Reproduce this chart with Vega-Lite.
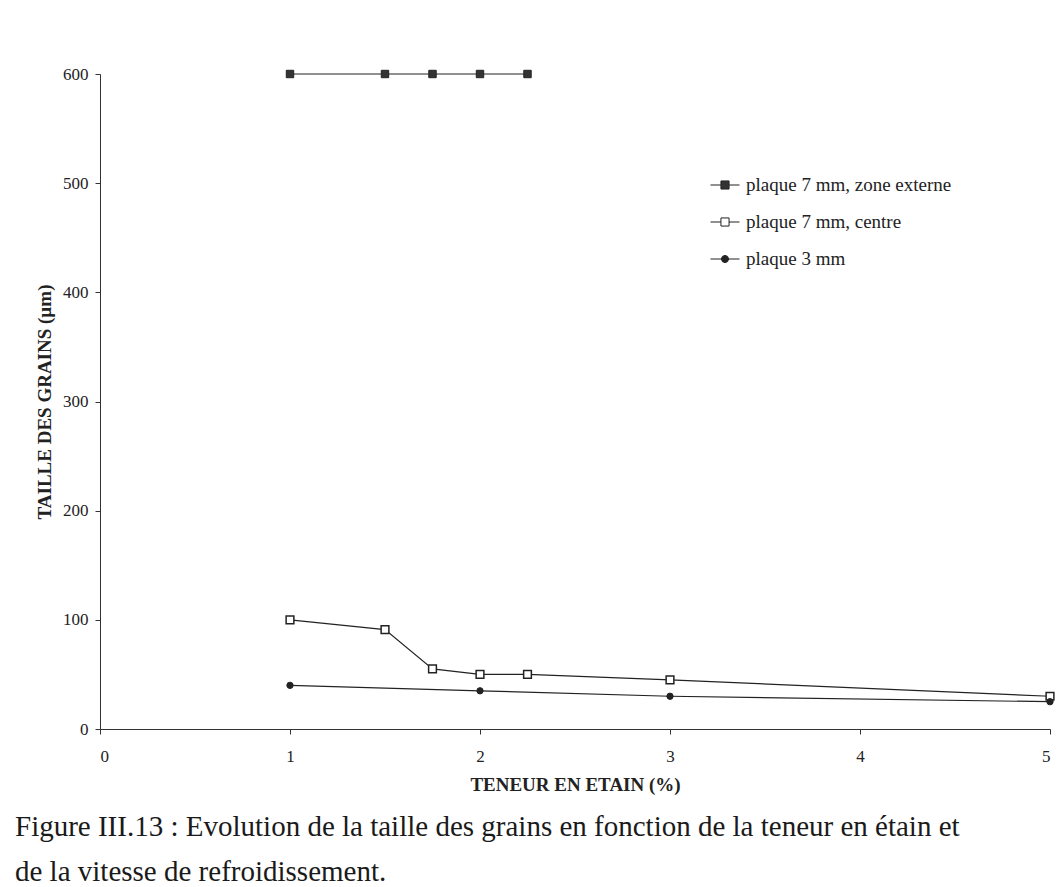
{
  "$schema": "https://vega.github.io/schema/vega-lite/v6.json",
  "width": 950,
  "height": 655,
  "autosize": {"type": "none"},
  "padding": {"left": 100, "top": 74, "right": 12, "bottom": 158},
  "background": "white",
  "config": {"view": {"stroke": null}, "font": "Liberation Serif"},
  "title": {
    "text": ["Figure III.13 : Evolution de la taille des grains en fonction de la teneur en étain et", "de la vitesse de refroidissement."],
    "orient": "bottom",
    "anchor": "start",
    "frame": "group",
    "dx": -85,
    "offset": 19,
    "font": "Liberation Serif",
    "fontSize": 29,
    "fontWeight": "normal",
    "color": "#1a1a1a",
    "lineHeight": 45
  },
  "data": {
    "values": [
      {"serie": "plaque 7 mm, zone externe", "teneur": 1, "taille": 600},
      {"serie": "plaque 7 mm, zone externe", "teneur": 1.5, "taille": 600},
      {"serie": "plaque 7 mm, zone externe", "teneur": 1.75, "taille": 600},
      {"serie": "plaque 7 mm, zone externe", "teneur": 2, "taille": 600},
      {"serie": "plaque 7 mm, zone externe", "teneur": 2.25, "taille": 600},
      {"serie": "plaque 7 mm, centre", "teneur": 1, "taille": 100},
      {"serie": "plaque 7 mm, centre", "teneur": 1.5, "taille": 91},
      {"serie": "plaque 7 mm, centre", "teneur": 1.75, "taille": 55},
      {"serie": "plaque 7 mm, centre", "teneur": 2, "taille": 50},
      {"serie": "plaque 7 mm, centre", "teneur": 2.25, "taille": 50},
      {"serie": "plaque 7 mm, centre", "teneur": 3, "taille": 45},
      {"serie": "plaque 7 mm, centre", "teneur": 5, "taille": 30},
      {"serie": "plaque 3 mm", "teneur": 1, "taille": 40},
      {"serie": "plaque 3 mm", "teneur": 2, "taille": 35},
      {"serie": "plaque 3 mm", "teneur": 3, "taille": 30},
      {"serie": "plaque 3 mm", "teneur": 5, "taille": 25}
    ]
  },
  "encoding": {
    "x": {
      "field": "teneur",
      "type": "quantitative",
      "scale": {"domain": [0, 5], "nice": false, "zero": false},
      "axis": {
        "title": "TENEUR EN ETAIN (%)",
        "values": [0, 1, 2, 3, 4, 5],
        "format": "d",
        "grid": false,
        "domainColor": "#333",
        "tickColor": "#333",
        "tickSize": 5,
        "labelFont": "Liberation Serif",
        "labelFontSize": 17,
        "labelColor": "#222",
        "labelPadding": 14,
        "titleFont": "Liberation Serif",
        "titleFontSize": 19,
        "titleFontWeight": "bold",
        "titleColor": "#222",
        "titlePadding": 11
      }
    },
    "y": {
      "field": "taille",
      "type": "quantitative",
      "scale": {"domain": [0, 600], "nice": false},
      "axis": {
        "title": "TAILLE DES GRAINS (µm)",
        "values": [0, 100, 200, 300, 400, 500, 600],
        "grid": false,
        "domainColor": "#333",
        "tickColor": "#333",
        "tickSize": 5,
        "labelFont": "Liberation Serif",
        "labelFontSize": 17,
        "labelColor": "#222",
        "labelPadding": 7,
        "titleFont": "Liberation Serif",
        "titleFontSize": 19,
        "titleFontWeight": "bold",
        "titleColor": "#222",
        "titlePadding": 8
      }
    }
  },
  "layer": [
    {
      "mark": {"type": "line", "stroke": "#222", "strokeWidth": 1.2},
      "encoding": {"detail": {"field": "serie"}}
    },
    {
      "transform": [{"filter": "datum.serie === 'plaque 7 mm, zone externe'"}],
      "mark": {"type": "point", "shape": "square", "filled": true, "fill": "#333", "stroke": "#222", "strokeWidth": 1, "size": 55, "opacity": 1}
    },
    {
      "transform": [{"filter": "datum.serie === 'plaque 7 mm, centre'"}],
      "mark": {"type": "point", "shape": "square", "filled": true, "fill": "white", "stroke": "#222", "strokeWidth": 1.5, "size": 60, "opacity": 1}
    },
    {
      "transform": [{"filter": "datum.serie === 'plaque 3 mm'"}],
      "mark": {"type": "point", "shape": "circle", "filled": true, "fill": "#222", "stroke": "#222", "strokeWidth": 1, "size": 40, "opacity": 1}
    },
    {
      "mark": {"type": "point", "filled": true, "opacity": 0},
      "encoding": {
        "shape": {
          "field": "serie",
          "type": "nominal",
          "sort": ["plaque 7 mm, zone externe", "plaque 7 mm, centre", "plaque 3 mm"],
          "scale": {
            "domain": ["plaque 7 mm, zone externe", "plaque 7 mm, centre", "plaque 3 mm"],
            "range": [
              "M-1,0H-0.28M0.28,0H1M-0.28,-0.28H0.28V0.28H-0.28Z",
              "M-1,0H-0.28M0.28,0H1M-0.28,-0.28H0.28V0.28H-0.28Z",
              "M-1,0H-0.25M0.25,0H1M-0.25,0L-0.18,-0.18L0,-0.25L0.18,-0.18L0.25,0L0.18,0.18L0,0.25L-0.18,0.18Z"
            ]
          },
          "legend": {
            "title": null,
            "orient": "none",
            "legendX": 610,
            "legendY": 96,
            "padding": 0,
            "symbolSize": 841,
            "symbolOpacity": 1,
            "labelFont": "Liberation Serif",
            "labelFontSize": 19,
            "labelColor": "#222",
            "labelOffset": 6,
            "labelLimit": 400,
            "rowPadding": 12,
            "encode": {
              "symbols": {
                "update": {
                  "stroke": {"value": "#222"},
                  "strokeWidth": {"value": 1},
                  "strokeOpacity": {"value": 1},
                  "opacity": {"value": 1}
                }
              }
            }
          }
        },
        "fill": {
          "field": "serie",
          "type": "nominal",
          "sort": ["plaque 7 mm, zone externe", "plaque 7 mm, centre", "plaque 3 mm"],
          "scale": {
            "domain": ["plaque 7 mm, zone externe", "plaque 7 mm, centre", "plaque 3 mm"],
            "range": ["#333", "#ffffff", "#222"]
          },
          "legend": {
            "title": null,
            "orient": "none",
            "legendX": 610,
            "legendY": 96,
            "padding": 0,
            "symbolSize": 841,
            "symbolOpacity": 1,
            "labelFont": "Liberation Serif",
            "labelFontSize": 19,
            "labelColor": "#222",
            "labelOffset": 6,
            "labelLimit": 400,
            "rowPadding": 12,
            "encode": {
              "symbols": {
                "update": {
                  "stroke": {"value": "#222"},
                  "strokeWidth": {"value": 1},
                  "strokeOpacity": {"value": 1},
                  "opacity": {"value": 1}
                }
              }
            }
          }
        }
      }
    }
  ]
}
